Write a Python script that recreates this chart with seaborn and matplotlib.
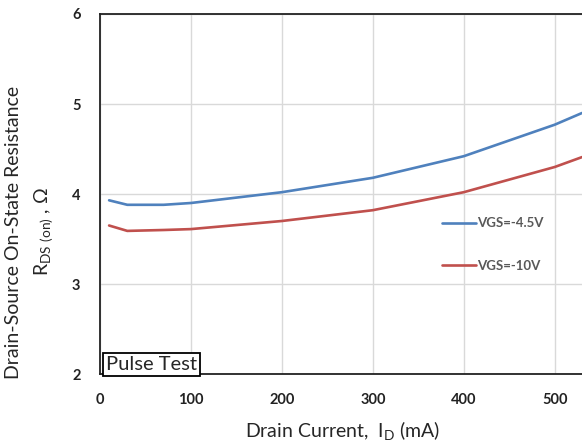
"""
RDS(on) vs drain current, two gate voltages.
"""

import pandas as pd
import matplotlib.pyplot as plt
import seaborn as sns

current_ma = [10, 30, 70, 100, 200, 300, 400, 500, 530]
rds_vgs_45 = [3.93, 3.88, 3.88, 3.90, 4.02, 4.18, 4.42, 4.77, 4.90]
rds_vgs_10 = [3.65, 3.59, 3.60, 3.61, 3.70, 3.82, 4.02, 4.30, 4.41]
series_labels = ["VGS=-4.5V", "VGS=-10V"]
series_colors = ["#4F81BD", "#C0504D"]
x_ticks = [0, 100, 200, 300, 400, 500]
y_ticks = [2, 3, 4, 5, 6]


def build_frame() -> pd.DataFrame:
    parts = []
    for label, values in zip(series_labels, [rds_vgs_45, rds_vgs_10]):
        parts.append(pd.DataFrame({"ID": current_ma, "RDS": values, "VGS": label}))
    return pd.concat(parts, ignore_index=True)


def main():
    sns.set_style("white")
    plt.rcParams["font.family"] = ["Lato", "DejaVu Sans"]
    plt.rcParams["mathtext.fontset"] = "custom"
    plt.rcParams["mathtext.rm"] = "Lato"

    df = build_frame()
    fig = plt.figure(figsize=(5.82, 4.44), dpi=100)
    ax = fig.add_axes([100 / 582, 70 / 444, 482 / 582, 360 / 444])

    sns.lineplot(data=df, x="ID", y="RDS", hue="VGS", palette=series_colors,
                 linewidth=1.9, ax=ax)

    ax.set_xlim(0, 530)
    ax.set_ylim(2, 6)
    ax.set_xticks(x_ticks)
    ax.set_yticks(y_ticks)
    ax.grid(True, color="#d9d9d9", linewidth=1)
    ax.set_axisbelow(True)
    for side in ["left", "top", "bottom"]:
        ax.spines[side].set_color("#222222")
        ax.spines[side].set_linewidth(1.3)
    ax.spines["right"].set_visible(False)
    ax.tick_params(length=0)
    ax.tick_params(axis="x", pad=14)
    ax.tick_params(axis="y", pad=14)
    for lbl in ax.get_xticklabels() + ax.get_yticklabels():
        lbl.set_fontweight("bold")
        lbl.set_fontsize(10.5)
        lbl.set_color("#222222")

    ax.set_xlabel("")
    ax.set_ylabel("")
    fig.text(343 / 582, 1 - 431 / 444, r"Drain Current,  I$_{\rm D}$ (mA)",
             ha="center", va="center", fontsize=14)
    fig.text(14 / 582, 1 - 232 / 444, "Drain-Source On-State Resistance",
             rotation=90, ha="center", va="center", fontsize=14)
    fig.text(44 / 582, 1 - 232 / 444, r"R$_{\rm DS\ (on)}$ , Ω",
             rotation=90, ha="center", va="center", fontsize=14)

    ax.text(7, 2.015, "Pulse Test", fontsize=14.5, ha="left", va="bottom",
            bbox=dict(boxstyle="square,pad=0.15", fc="white", ec="black", lw=1.3))

    leg = ax.legend(loc="upper left", bbox_to_anchor=(376, 3.74),
                    bbox_transform=ax.transData, frameon=False, fontsize=9.5,
                    handlelength=2.6, handletextpad=0.1, labelspacing=2.3,
                    borderpad=0, borderaxespad=0)
    for txt in leg.get_texts():
        txt.set_color("#595959")
        txt.set_fontweight("bold")

    fig.savefig("out.png", dpi=100)
    plt.close(fig)


if __name__ == "__main__":
    main()
